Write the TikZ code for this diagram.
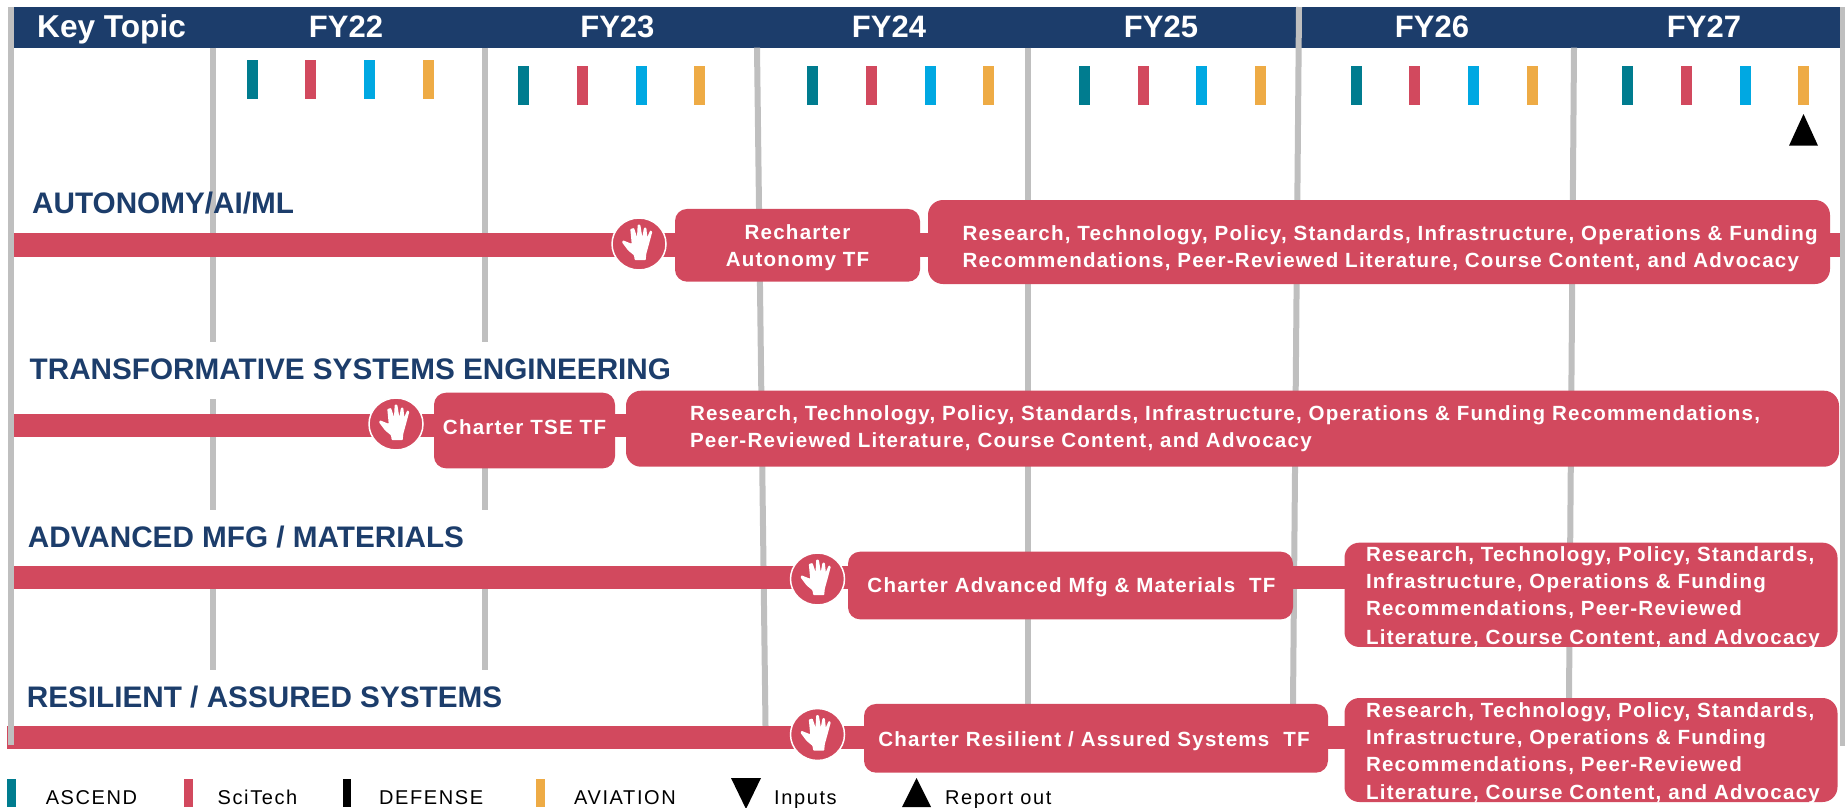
\documentclass[tikz,border=0pt]{standalone}
\usepackage{fontspec}
\usetikzlibrary{shapes.geometric}
\setmainfont{Liberation Sans}
\newfontfamily\boxfont[LetterSpace=6]{Liberation Sans}
\newfontfamily\legfont[LetterSpace=8]{Liberation Sans}
\definecolor{navy}{HTML}{1C3D6B}
\definecolor{crim}{HTML}{D2495E}
\definecolor{teal2}{HTML}{007C8F}
\definecolor{sky}{HTML}{00A8E2}
\definecolor{amber}{HTML}{EEAB45}
\definecolor{gridgrey}{HTML}{BFBFBF}
\newcommand{\dd}[1]{\rule[-#1pt]{0pt}{#1pt}}
\newcommand{\uu}[1]{\rule{0pt}{#1pt}}
\pgfdeclarelayer{gridlayer}
\pgfdeclarelayer{barlayer}
\pgfsetlayers{gridlayer,barlayer,main}
\tikzset{
  gridline/.style={draw=gridgrey,line width=6pt},
  barline/.style={draw=crim,line width=23.5pt},
  headtext/.style={text=white,font=\fontsize{31}{35}\selectfont\bfseries,inner sep=0pt,anchor=base},
  topictext/.style={text=navy,font=\fontsize{29.7}{34}\selectfont\bfseries,inner sep=0pt,anchor=base west},
  legtext/.style={text=black,font=\legfont\fontsize{20}{24}\selectfont,inner sep=0pt,anchor=base west},
  tfbox/.style={fill=crim,text=white,rounded corners=12pt,inner sep=0pt,
     font=\boxfont\fontsize{20.55}{27}\selectfont\bfseries},
  stopdisc/.style={ellipse,fill=crim,draw=white,line width=1.5pt,inner sep=0pt,minimum width=54pt,minimum height=52pt},
  pics/stophand/.style={code={
    \fill[white,rounded corners=0.7pt] (-4.3,16)--(6.7,16)--(7.3,9.7)--(10,0)--(13.3,-12.3)--(11.3,-13.7)--(8.3,-7)
      --(7.3,-16.3)--(5,-16.3)--(3.3,-7)--(1.3,-19.3)--(-1.3,-19.3)--(-2,-7)--(-5,-16)--(-8.7,-15)--(-7.3,-0.3)
      --(-9.3,-1)--(-16,-3.7)--(-17,-1.7)--(-11,6.3)--(-5,11.3)--cycle;
  }},
}
\begin{document}
\begin{tikzpicture}[x=1pt,y=-1pt]
\useasboundingbox (0,0) rectangle (1845,807);
\begin{pgfonlayer}{gridlayer}
% header
\fill[navy] (14,7) rectangle (1840,47.7);
% grid
\draw[gridline,line width=5pt] (1842,7)--(1842,746);
\foreach \x in {213,485}{
  \draw[gridline] (\x,47.7)--(\x,342);
  \draw[gridline] (\x,399)--(\x,510);
  \draw[gridline] (\x,589)--(\x,670);
}
\draw[gridline] (757,47.7)--(765.5,726);
\draw[gridline] (1028,47.7)--(1028,705);
\draw[gridline] (1299,7)--(1293,704);
\draw[gridline] (1574,47.7)--(1569,698);
\end{pgfonlayer}
% header labels
\node[headtext,anchor=base west,font=\fontsize{31.6}{35}\selectfont\bfseries] (kt) at (37,37) {Key Topic};
\node[headtext] (fy22) at (346,37) {FY22};
\node[headtext] (fy23) at (617.4,37) {FY23};
\node[headtext] (fy24) at (889,37) {FY24};
\node[headtext] (fy25) at (1161,37) {FY25};
\node[headtext] (fy26) at (1432,37) {FY26};
\node[headtext] (fy27) at (1704,37) {FY27};
% conference ticks
\foreach \x/\c in {247/teal2,305/crim,364/sky,423/amber}
  \fill[\c] (\x,60) rectangle +(11,39);
\foreach \x/\c in {518/teal2,577/crim,636/sky,694/amber,
                   807/teal2,866/crim,925/sky,983/amber,
                   1079/teal2,1138/crim,1196/sky,1255/amber,
                   1351/teal2,1409/crim,1468/sky,1527/amber,
                   1622/teal2,1681/crim,1740/sky,1798/amber}
  \fill[\c] (\x,66) rectangle +(11,39);
\fill[black] (1789,145.7)--(1818,145.7)--(1803.5,114)--cycle;
% topic titles
\node[topictext] (t1) at (32,213.7) {AUTONOMY/AI/ML};
\node[topictext] (t2) at (29.5,379.7) {TRANSFORMATIVE SYSTEMS ENGINEERING};
\node[topictext] (t3) at (27.7,547.7) {ADVANCED MFG / MATERIALS};
\node[topictext] (t4) at (26.7,707.7) {RESILIENT / ASSURED SYSTEMS};
% nodes
\node[stopdisc] (h1) at (639,244) {};
\node[stopdisc] (h2) at (396,424) {};
\node[stopdisc] (h3) at (817.5,579) {};
\node[stopdisc] (h4) at (817.5,734.5) {};
\coordinate (s1) at (14,245);
\coordinate (s2) at (14,425.4);
\coordinate (s3) at (14,577.5);
\coordinate (s4) at (7,737.5);
\coordinate (e1) at (1840,245);
% boxes
\node[tfbox,minimum width=245pt,minimum height=72.7pt,align=center] (b1) at (797.5,245.3) {\uu{20.4}Recharter\\Autonomy TF};
\node[tfbox,rounded corners=15pt,minimum width=902pt,minimum height=84pt,text width=833pt,align=left] (r1) at (1379,242)
  {\uu{28.5}\mbox{Research, Technology, Policy, Standards, Infrastructure, Operations \& Funding}\\\mbox{Recommendations, Peer-Reviewed Literature, Course Content, and Advocacy}};
\node[tfbox,minimum width=181pt,minimum height=75.6pt] (b2) at (524.5,430.5) {Charter TSE TF\dd{6}};
\node[tfbox,rounded corners=15pt,minimum width=1213pt,minimum height=76pt,text width=1085pt,align=left] (r2) at (1232.5,428.7)
  {\mbox{Research, Technology, Policy, Standards, Infrastructure, Operations \& Funding Recommendations,}\\\mbox{Peer-Reviewed Literature, Course Content, and Advocacy}};
\node[tfbox,minimum width=445pt,minimum height=67.6pt] (b3) at (1070.5,585.5) {\uu{19}\hspace*{2pt}Charter Advanced Mfg \& Materials\ \ TF};
\node[tfbox,rounded corners=15pt,minimum width=493pt,minimum height=104.3pt,text width=450pt,align=left] (r3) at (1591,594.8)
  {\mbox{Research, Technology, Policy, Standards,}\\\mbox{Infrastructure, Operations \& Funding}\\\mbox{Recommendations, Peer-Reviewed}\\[1.5pt]\mbox{Literature, Course Content, and Advocacy}\vspace{-5.4pt}};
\node[tfbox,minimum width=464pt,minimum height=68.7pt] (b4) at (1096,738.3) {\uu{20.4}Charter Resilient / Assured Systems\ \ TF\hspace*{4pt}};
\node[tfbox,rounded corners=15pt,minimum width=493pt,minimum height=104pt,text width=450pt,align=left] (r4) at (1591,750)
  {\mbox{Research, Technology, Policy, Standards,}\\\mbox{Infrastructure, Operations \& Funding}\\\mbox{Recommendations, Peer-Reviewed}\\[1.5pt]\mbox{Literature, Course Content, and Advocacy}\vspace{-6.8pt}};
% hands
\foreach \h in {h1,h2,h3,h4} \pic at (\h) {stophand};
% connectors
\begin{pgfonlayer}{barlayer}
\draw[barline] (s1)--(s1 -| h1);
\draw[barline] (s1 -| h1)--(s1 -| b1);
\draw[barline] (s1 -| b1)--(s1 -| r1);
\draw[barline] (s1 -| r1)--(e1);
\draw[barline] (s2)--(s2 -| h2);
\draw[barline] (s2 -| h2)--(s2 -| b2);
\draw[barline] (s2 -| b2)--(s2 -| r2);
\draw[barline] (s3)--(s3 -| h3);
\draw[barline] (s3 -| h3)--(s3 -| b3);
\draw[barline] (s3 -| b3)--(s3 -| r3);
\draw[barline] (s4)--(s4 -| h4);
\draw[barline] (s4 -| h4)--(s4 -| b4);
\draw[barline] (s4 -| b4)--(s4 -| r4);
\end{pgfonlayer}
\draw[gridline,line width=6.5pt] (11,7)--(11,745);
% legend
\fill[teal2] (7,779) rectangle (16,807);
\fill[crim] (184,779) rectangle (193,807);
\fill[black] (342.5,779) rectangle (351,807);
\fill[amber] (536,779) rectangle (545,807);
\node[legtext] (l1) at (45.6,804) {ASCEND};
\node[legtext] (l2) at (217.5,804) {SciTech};
\node[legtext] (l3) at (379,804) {DEFENSE};
\node[legtext] (l4) at (574,804) {AVIATION};
\fill[black] (731,778)--(761,778)--(746,809)--cycle;
\node[legtext] (l5) at (774,804) {Inputs};
\fill[black] (902,807)--(931,807)--(916.5,778)--cycle;
\node[legtext] (l6) at (945,804) {Report out};
\end{tikzpicture}
\end{document}
